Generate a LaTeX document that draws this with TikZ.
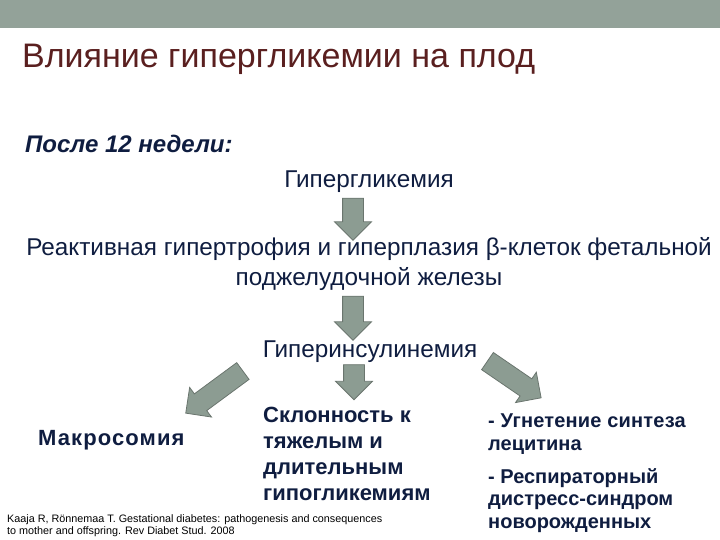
\documentclass[tikz,border=0pt]{standalone}
\usepackage{fontspec}
\setmainfont{Liberation Sans}
\usetikzlibrary{shapes.arrows}
\definecolor{barcol}{HTML}{93A299}
\definecolor{titlecol}{HTML}{5A1F1F}
\definecolor{txtcol}{HTML}{0F1D40}
\definecolor{arrowfill}{HTML}{8C9C92}
\definecolor{arrowline}{HTML}{6A756E}
\newcommand{\wide}[1]{\addfontfeature{LetterSpace=#1}}
\tikzset{
  every node/.style={text=txtcol,inner sep=0pt},
  big/.style={font=\fontsize{24.3}{30}\selectfont},
  bigbold/.style={font=\fontsize{22}{25.7}\selectfont\bfseries,align=left}
}

\begin{document}
\begin{tikzpicture}[x=1pt,y=-1pt,
  blockarrow/.style={single arrow,draw=arrowline,fill=arrowfill,line width=0.8pt,
    inner xsep=0pt,inner ysep=10pt,single arrow head extend=8pt}]
\useasboundingbox (0,0) rectangle (720,540);
\fill[barcol] (0,0) rectangle (720,28);
% title and heading
\node[anchor=base west,text=titlecol,font=\fontsize{34}{40}\selectfont] (title) at (22,68) {Влияние гипергликемии на плод};
\node[anchor=base west,font=\fontsize{24}{28}\selectfont\bfseries\itshape] (after) at (25,153) {После 12 недели:};
% chain (base = last line)
\node[big,anchor=base] (hyper) at (369,188) {Гипергликемия};
\node[big,align=center,anchor=base] (react) at (369,285)
  {Реактивная гипертрофия и гиперплазия β-клеток фетальной\\поджелудочной железы};
\node[big,anchor=base] (hypins) at (370,357) {Гиперинсулинемия};
\node[blockarrow,minimum height=42pt,rotate=-90] (arr1) at (353,214) {};
\node[blockarrow,minimum height=44pt,rotate=-90] (arr2) at (353,313) {};
\node[blockarrow,minimum height=35pt,rotate=-90] (arr3) at (354,377) {};
\node[blockarrow,minimum height=71pt,rotate=216.4] (arrL) at (218.5,389) {};
\node[blockarrow,minimum height=65pt,rotate=-34.4] (arrR) at (510,376.5) {};
% outcomes
\node[bigbold,anchor=base west] (macro) at (38,445) {{\wide{5}Макросомия}};
\node[bigbold,anchor=base west] (hypo) at (263,500)
  {Склонность к\\тяжелым и\\длительным\\гипогликемиям};
\node[font=\fontsize{20}{22.5}\selectfont\bfseries,align=left,anchor=base west] (lung) at (488,528)
  {{\wide{1}- Угнетение синтеза}\\лецитина\\[10.5pt]- Респираторный\\дистресс-синдром\\новорожденных};
\node[anchor=south west,align=left,text=black,font=\fontsize{10.8}{12}\selectfont] (cite) at (7,537)
  {Kaaja R, Rönnemaa T. Gestational diabetes: pathogenesis and consequences\\to mother and offspring. Rev Diabet Stud. 2008};
\end{tikzpicture}
\end{document}
